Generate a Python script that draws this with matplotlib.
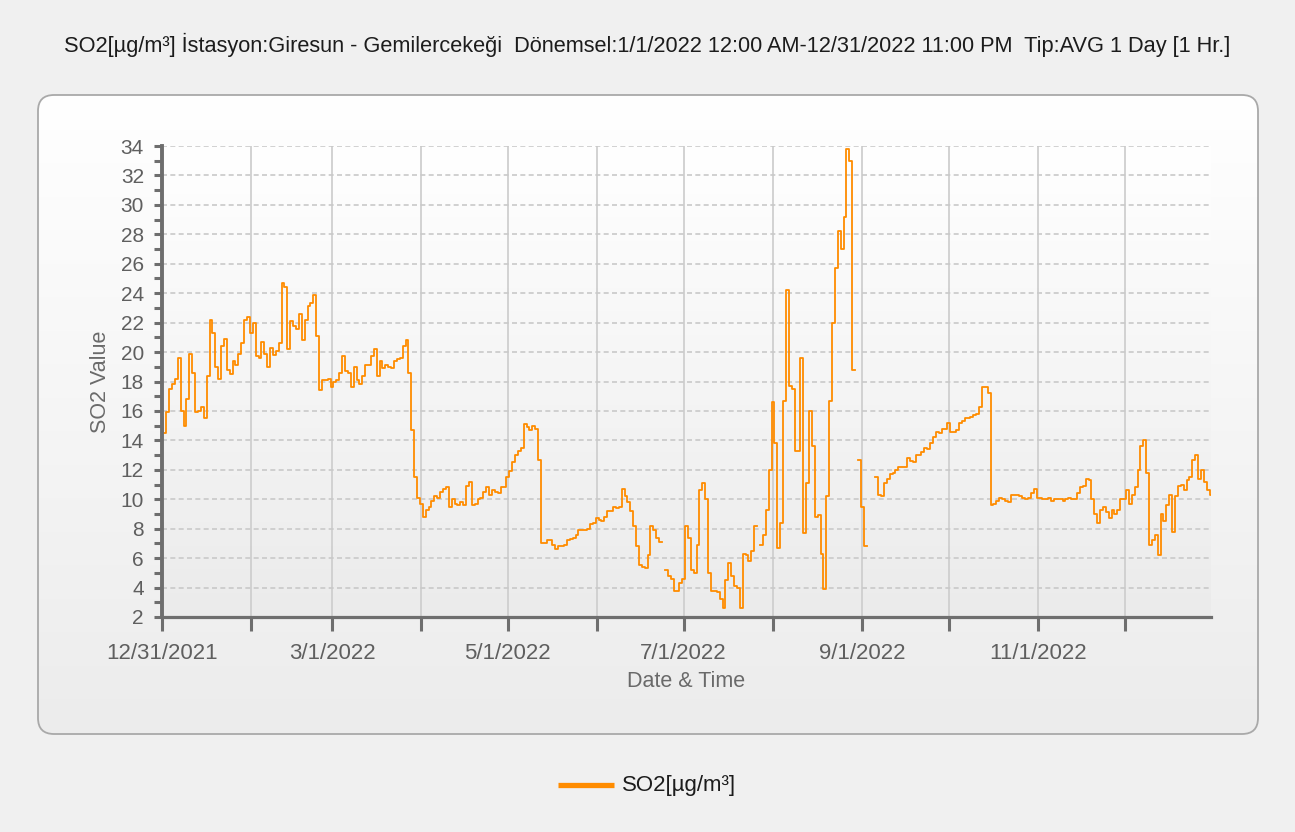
import numpy as np
import matplotlib
matplotlib.use("Agg")
import matplotlib.pyplot as plt
from matplotlib.patches import FancyBboxPatch
from matplotlib.colors import LinearSegmentedColormap
from matplotlib.ticker import MultipleLocator

plt.rcParams['font.family'] = ['Liberation Sans', 'DejaVu Sans']

nan = np.nan
# daily SO2 values [ug/m3], 2022
jan = [15.6, 14.5, 15.9, 17.5, 17.8, 18.2, 19.6, 16.0, 15.0, 16.8, 19.9, 18.6, 15.9, 16.0, 16.3, 15.5,
       18.4, 22.2, 21.3, 19.0, 18.2, 20.4, 20.9, 18.8, 18.5, 19.4, 19.1, 19.9, 20.6, 22.2, 22.4]
feb = [21.3, 22.0, 19.7, 19.6, 20.7, 19.9, 19.0, 20.3, 19.8, 20.1, 20.6, 24.7, 24.4, 20.2, 22.1, 21.8,
       21.6, 22.6, 20.8, 22.2, 23.1, 23.3, 23.9, 21.1, 17.4, 18.1, 18.1, 18.2]
mar = [17.6, 18.0, 18.1, 18.6, 19.7, 18.7, 18.6, 17.6, 19.0, 18.1, 17.8, 18.4, 19.1, 19.1, 19.7, 20.2,
       18.4, 19.4, 18.9, 19.1, 19.0, 18.9, 19.4, 19.5, 19.6, 20.4, 20.8, 18.6, 14.7, 11.5, 10.1]
apr = [9.7, 8.8, 9.3, 9.5, 9.9, 10.2, 10.1, 10.5, 10.7, 10.8, 9.5, 10.0, 9.7, 9.6, 9.8, 9.6,
       10.9, 11.2, 9.6, 9.7, 10.0, 10.1, 10.5, 10.8, 10.3, 10.6, 10.5, 10.4, 10.8, 10.8]
may = [11.5, 11.9, 12.5, 13.0, 13.3, 13.5, 15.1, 14.9, 14.7, 15.0, 14.8, 12.7, 7.0, 7.0, 7.2, 7.2,
       6.9, 6.6, 6.8, 6.8, 6.9, 7.2, 7.3, 7.4, 7.6, 7.9, 7.9, 7.9, 8.0, 8.3, 8.4]
jun = [8.7, 8.6, 8.5, 8.8, 9.2, 9.2, 9.5, 9.4, 9.5, 10.7, 10.2, 9.8, 9.2, 8.2, 6.8, 5.5,
       5.4, 5.3, 6.2, 8.2, 7.9, 7.4, 7.1, nan, 5.2, 4.8, 4.6, 3.8, 3.8, 4.3]
jul = [4.6, 8.2, 7.4, 5.2, 5.0, 6.9, 10.6, 11.1, 10.0, 5.0, 3.8, 3.8, 3.7, 3.2, 2.6, 4.5,
       5.7, 4.8, 4.1, 4.0, 2.6, 6.3, 6.2, 5.8, 6.5, 8.2, nan, 6.9, 7.6, 9.3, 12.0]
aug = [16.6, 13.8, 6.7, 8.4, 16.7, 24.2, 17.7, 17.5, 13.3, 13.3, 19.6, 7.7, 11.1, 16.0, 13.6, 8.8,
       8.9, 6.3, 3.9, 10.2, 16.7, 22.0, 25.7, 28.2, 27.0, 29.2, 33.8, 33.0, 18.8, nan, 12.7]
sep = [9.5, 6.8, nan, nan, nan, 11.5, 10.3, 10.2, 11.1, 11.4, 11.7, 11.8, 12.0, 12.2, 12.2, 12.2,
       12.8, 12.6, 12.5, 13.0, 13.0, 13.2, 13.5, 13.4, 13.8, 14.2, 14.6, 14.5, 14.8, 14.8]
oct_ = [15.2, 14.6, 14.6, 14.7, 15.2, 15.3, 15.5, 15.5, 15.6, 15.7, 15.8, 16.3, 17.6, 17.6, 17.2, 9.6,
        9.7, 9.9, 10.1, 10.0, 9.9, 9.8, 10.3, 10.3, 10.3, 10.2, 10.1, 10.0, 10.1, 10.4, 10.7]
nov = [10.1, 10.1, 10.0, 10.0, 10.1, 9.9, 10.0, 10.0, 10.0, 9.9, 10.0, 10.1, 10.0, 10.0, 10.4, 10.8,
       10.9, 11.4, 11.3, 10.0, 9.0, 8.4, 9.3, 9.5, 9.1, 8.7, 9.3, 9.0, 9.3, 10.0]
dec = [10.0, 10.6, 9.7, 10.3, 10.8, 12.0, 13.6, 14.0, 11.8, 6.9, 7.2, 7.6, 6.2, 9.0, 8.5, 9.6,
       10.3, 7.8, 10.2, 10.9, 11.0, 10.6, 11.3, 11.5, 12.7, 13.0, 11.4, 12.0, 11.2, 10.6, 10.3]

months = [jan, feb, mar, apr, may, jun, jul, aug, sep, oct_, nov, dec]
so2 = np.array(sum(months, []))
days = np.arange(len(so2))

month_start = np.cumsum([0] + [len(m) for m in months[:-1]])
month_label = ["12/31/2021", "", "3/1/2022", "", "5/1/2022", "", "7/1/2022", "",
               "9/1/2022", "", "11/1/2022", ""]

title = ("SO2[µg/m³] İstasyon:Giresun - Gemilercekeği  Dönemsel:1/1/2022 12:00 AM-12/31/2022 11:00 PM"
         "  Tip:AVG 1 Day [1 Hr.]")
series_name = "SO2[µg/m³]"

W, H = 1295, 832
orange = '#FF8C00'
axis_gray = '#6E6E6E'
text_gray = '#5F5F5F'

fig = plt.figure(figsize=(W / 100, H / 100), dpi=100, facecolor='#F0F0F0')

# background layer in pixel coords
bg = fig.add_axes([0, 0, 1, 1])
bg.set_xlim(0, W)
bg.set_ylim(H, 0)
bg.axis('off')

grad = np.linspace(0, 1, 256).reshape(-1, 1)
panel_cmap = LinearSegmentedColormap.from_list('p', ['#FFFFFF', '#ECECEC'])
panel = FancyBboxPatch((38, 95), 1220, 639, boxstyle="round,pad=0,rounding_size=16",
                       fc='none', ec='#A9A9A9', lw=1.3, zorder=2)
bg.add_patch(panel)
im = bg.imshow(grad, extent=(38, 1258, 734, 95), cmap=panel_cmap, aspect='auto', zorder=1)
im.set_clip_path(panel)
bg.set_xlim(0, W)
bg.set_ylim(H, 0)

bg.text(W / 2, 45, title, ha='center', va='center', fontsize=15.7, color='#1C1C1C')

# legend
bg.plot([558, 614], [785, 785], color=orange, lw=3.8, solid_capstyle='butt')
bg.text(622, 785, series_name, ha='left', va='center', fontsize=16, color='#1C1C1C')

# plot area
ax = fig.add_axes([162 / W, 1 - 617 / H, 1049 / W, 471 / H])
ax.set_facecolor('none')
plot_cmap = LinearSegmentedColormap.from_list('a', ['#FFFFFF', '#EBEBEB'])
ax.imshow(grad, extent=(0, 1, 0, 1), transform=ax.transAxes, cmap=plot_cmap,
          aspect='auto', zorder=0)

ax.plot(days, so2, color=orange, lw=1.3, drawstyle='steps-mid', zorder=3)

ax.set_xlim(0, 364)
ax.set_ylim(2, 34)

ax.yaxis.set_major_locator(MultipleLocator(2))
ax.yaxis.set_minor_locator(MultipleLocator(1))
ax.set_xticks(month_start)
ax.set_xticklabels(month_label)

ax.yaxis.grid(True, which='major', color='#C9C9C9', lw=1.2, ls=(0, (3, 2)))
ax.xaxis.grid(True, which='major', color='#CFCFCF', lw=1.3)
ax.set_axisbelow(True)

for s in ['top', 'right']:
    ax.spines[s].set_visible(False)
ax.spines['left'].set_linewidth(2.8)
ax.spines['bottom'].set_linewidth(2.3)
for s in ['left', 'bottom']:
    ax.spines[s].set_color(axis_gray)
    ax.spines[s].set_zorder(4)

ax.tick_params(axis='y', which='both', direction='out', length=6, width=2.2,
               color=axis_gray, labelcolor=text_gray, labelsize=15, pad=7)
ax.tick_params(axis='x', which='major', direction='out', length=10, width=2.2,
               color=axis_gray, labelcolor=text_gray, labelsize=16, pad=9)

ax.set_xlabel("Date & Time", fontsize=15.5, color='#6A6A6A', labelpad=5)
ax.set_ylabel("SO2 Value", fontsize=15.5, color='#6A6A6A', labelpad=7)

fig.savefig("out.png", dpi=100, facecolor=fig.get_facecolor())
